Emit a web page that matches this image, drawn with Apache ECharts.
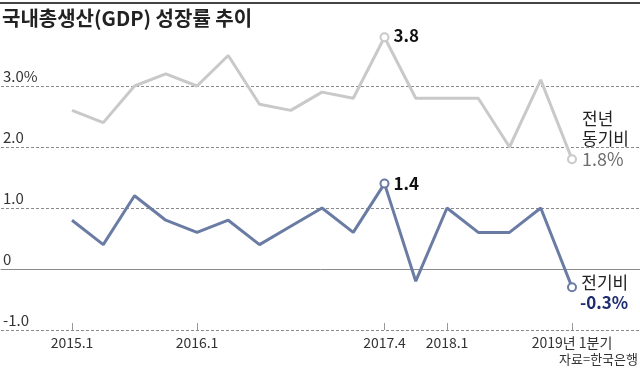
<!DOCTYPE html>
<html><head><meta charset="utf-8">
<script src="https://cdn.jsdelivr.net/npm/echarts@6/dist/echarts.min.js"></script>
<style>html,body{margin:0;padding:0;background:#fff}#c{width:640px;height:375px}</style>
</head><body><div id="c"></div>
<script>
const quarters = ['2015.1','2015.2','2015.3','2015.4','2016.1','2016.2','2016.3','2016.4','2017.1','2017.2','2017.3','2017.4','2018.1','2018.2','2018.3','2018.4','2019.1'];
const tickLabels = ['2015.1','','','','2016.1','','','','','','2017.4','','2018.1','','','','2019년 1분기'];
const yoy = [2.6,2.4,3.0,3.2,3.0,3.5,2.7,2.6,2.9,2.8,3.8,2.8,2.8,2.8,2.0,3.1,1.8];
const qoq = [0.8,0.4,1.2,0.8,0.6,0.8,0.4,0.7,1.0,0.6,1.4,-0.2,1.0,0.6,0.6,1.0,-0.3];
const yTicks = {'-1':'-1.0','0':'0','1':'1.0','2':'2.0','3':'3.0%'};
const title = '국내총생산(GDP) 성장률 추이';
const source = '자료=한국은행';
const yoyName = ['전년','동기비'];
const qoqName = '전기비';

const FONT = '"Noto Sans CJK KR", "Noto Sans", sans-serif';
const chart = echarts.init(document.getElementById('c'));
const showIdx = i => tickLabels[i] !== '';
const GRAY = '#c9c9c9', BLUE = '#6a7ba4';

function mkData(vals, color, special) {
  return vals.map((v, i) => {
    const s = special[i];
    if (!s) return { value: v, symbol: 'none' };
    return {
      value: v, symbol: 'circle', symbolSize: 8,
      itemStyle: { color: '#fff', borderColor: color, borderWidth: 2 },
      label: Object.assign({ show: true, fontFamily: FONT }, s)
    };
  });
}
const yoySpecial = {};
const maxI = yoy.indexOf(Math.max(...yoy));
yoySpecial[maxI] = { position: 'right', distance: 4, offset:[0,-2], formatter: String(yoy[maxI]), fontSize: 17, fontWeight: 'bold', color: '#111' };
yoySpecial[yoy.length-1] = { position: 'right', distance: 5, offset:[0,-20],
  formatter: '{a|' + yoyName[0] + '}\n{a|' + yoyName[1] + '}\n{b|' + yoy[yoy.length-1].toFixed(1) + '%}',
  rich: { a: { fontSize: 17, color: '#222', lineHeight: 20, fontFamily: FONT, align: 'left' }, b: { fontSize: 18, color: '#6e6e6e', lineHeight: 22, fontFamily: FONT, align: 'left' } } };
const qoqSpecial = {};
const maxQ = qoq.indexOf(Math.max(...qoq));
qoqSpecial[maxQ] = { position: 'right', distance: 4, formatter: String(qoq[maxQ]), fontSize: 17, fontWeight: 'bold', color: '#111' };
qoqSpecial[qoq.length-1] = { position: 'right', distance: 3, offset:[0,5],
  formatter: '{a|' + qoqName + '}\n{b|' + qoq[qoq.length-1].toFixed(1) + '%}',
  rich: { a: { fontSize: 17, color: '#222', lineHeight: 20, fontFamily: FONT, align: 'right' }, b: { fontSize: 17, fontWeight: 'bold', color: '#1e2c70', lineHeight: 20, fontFamily: FONT, align: 'right' } } };

chart.setOption({
  animation: false,
  textStyle: { fontFamily: FONT },
  grid: [
    { left: 0, right: 0, top: 86, bottom: 45 },
    { left: 72, right: 68, top: 86, bottom: 45 }
  ],
  xAxis: [
    { gridIndex: 0, type: 'value', min: 0, max: 1, axisLine: { show: true, onZero: true, lineStyle: { color: '#8a8a8a', width: 1 } }, axisTick: { show: false }, axisLabel: { show: false }, splitLine: { show: false } },
    { gridIndex: 1, type: 'category', data: quarters, boundaryGap: false,
      axisLine: { show: false, onZero: false },
      axisTick: { show: true, inside: true, length: 7, interval: showIdx, lineStyle: { color: '#999' } },
      axisLabel: { interval: showIdx, formatter: (v, i) => tickLabels[i], color: '#333', fontSize: 14, margin: 6, fontFamily: FONT },
      splitLine: { show: false } }
  ],
  yAxis: [
    { gridIndex: 0, type: 'value', min: -1, max: 3, interval: 1,
      axisLine: { show: false }, axisTick: { show: false },
      axisLabel: { inside: true, margin: 2, verticalAlign: 'bottom', padding: [0,0,2,0], color: '#333', fontSize: 15, fontFamily: FONT, formatter: v => yTicks[String(v)] },
      splitLine: { show: true, lineStyle: { color: '#8a8a8a', type: [3,2], width: 1 } } },
    { gridIndex: 1, type: 'value', min: -1, max: 3, interval: 1, show: false }
  ],
  series: [
    { type: 'line', xAxisIndex: 1, yAxisIndex: 1, clip: false, data: mkData(yoy, GRAY, yoySpecial), lineStyle: { color: GRAY, width: 3 }, itemStyle: { color: GRAY }, z: 3 },
    { type: 'line', xAxisIndex: 1, yAxisIndex: 1, clip: false, data: mkData(qoq, BLUE, qoqSpecial), lineStyle: { color: BLUE, width: 3 }, itemStyle: { color: BLUE }, z: 4 }
  ],
  graphic: [
    { type: 'rect', left: 0, top: 2, shape: { width: 640, height: 2 }, style: { fill: '#444' } },
    { type: 'text', left: 2, top: 8, style: { text: title, font: 'bold 20px ' + FONT, fill: '#222' } },
    { type: 'text', right: 2, top: 353, style: { text: source, font: '13px ' + FONT, fill: '#333' } }
  ]
});
</script></body></html>
